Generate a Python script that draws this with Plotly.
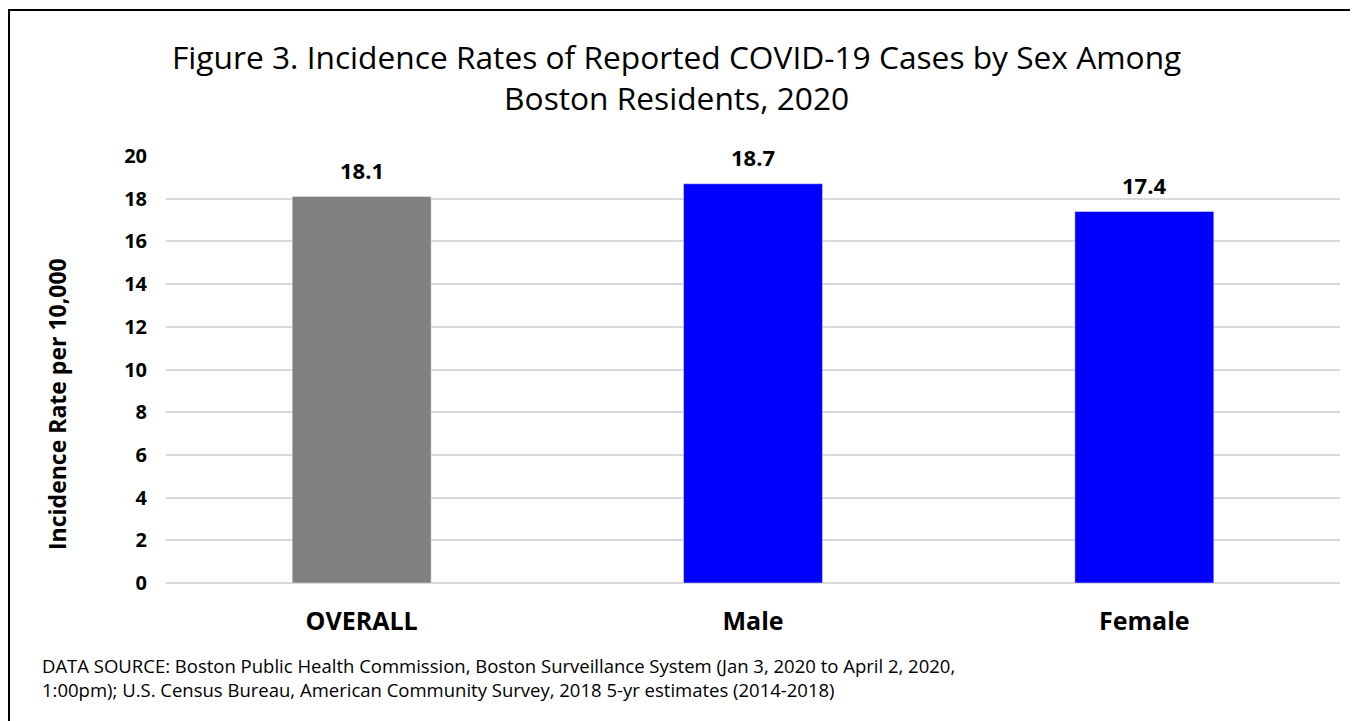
import plotly.graph_objects as go

# data
categories = ["OVERALL", "Male", "Female"]
rates = [18.1, 18.7, 17.4]
bar_colors = ["#808080", "#0000ff", "#0000ff"]
y_ticks = [0, 2, 4, 6, 8, 10, 12, 14, 16, 18, 20]

# page body adds 8px margin, so the figure is sized to fit the window
W, H = 1350, 713
L, R, T, B = 158, 18, 148, 138
pw, ph = W - L - R, H - T - B

FONT = "Open Sans"

def px_x(x):
    return (x - L) / pw

def px_y(y):
    return (H - B - y) / ph

fig = go.Figure(go.Bar(
    x=categories,
    y=rates,
    marker_color=bar_colors,
    width=0.355,
    cliponaxis=False,
))

# value labels above bars
for c, v in zip(categories, rates):
    fig.add_annotation(x=c, y=v, text=f"<b>{v:.1f}</b>", showarrow=False,
                       yanchor="middle", yshift=27,
                       font=dict(family=FONT, size=22, color="black"))

fig.update_layout(
    width=W, height=H,
    margin=dict(l=L, r=R, t=T, b=B),
    paper_bgcolor="white",
    plot_bgcolor="white",
    showlegend=False,
    font=dict(family=FONT, color="black"),
    xaxis=dict(
        tickfont=dict(family=FONT, size=25, color="black", weight="bold"),
        showline=False, ticks="", ticklabelstandoff=21,
    ),
    yaxis=dict(
        range=[0, 20], tickvals=y_ticks,
        showgrid=True, gridcolor="#d9d9d9", gridwidth=2,
        zeroline=True, zerolinecolor="#d9d9d9", zerolinewidth=2,
        tickfont=dict(family=FONT, size=20, color="black", weight="bold"),
        ticklabelstandoff=18,
    ),
)

# chart title
fig.add_annotation(
    xref="paper", yref="paper", x=px_x(668), y=px_y(69),
    xanchor="center", yanchor="middle", showarrow=False,
    text="Figure 3. Incidence Rates of Reported COVID-19 Cases by Sex Among<br>Boston Residents, 2020",
    font=dict(family=FONT, size=31.7, color="black"),
)

fig.add_annotation(
    xref="paper", yref="paper", x=px_x(49), y=px_y(396),
    xanchor="center", yanchor="middle", textangle=-90, showarrow=False,
    text="<b>Incidence Rate per 10,000</b>",
    font=dict(family=FONT, size=23, color="black"),
)

# outer border (top and left visible in the frame)
fig.add_shape(type="rect", xref="paper", yref="paper",
              x0=px_x(1), x1=px_x(W + 20), y0=px_y(H + 20), y1=px_y(2),
              line=dict(color="black", width=2), fillcolor="rgba(0,0,0,0)", layer="above")

fig.add_annotation(
    xref="paper", yref="paper", x=px_x(32), y=px_y(643), xanchor="left", yanchor="top",
    align="left", showarrow=False,
    text="DATA SOURCE: Boston Public Health Commission, Boston Surveillance System (Jan 3, 2020 to April 2, 2020,<br>"
         "1:00pm); U.S. Census Bureau, American Community Survey, 2018 5-yr estimates (2014-2018)",
    font=dict(family=FONT, size=18.5, color="black"),
)

fig.write_html("out.html")
